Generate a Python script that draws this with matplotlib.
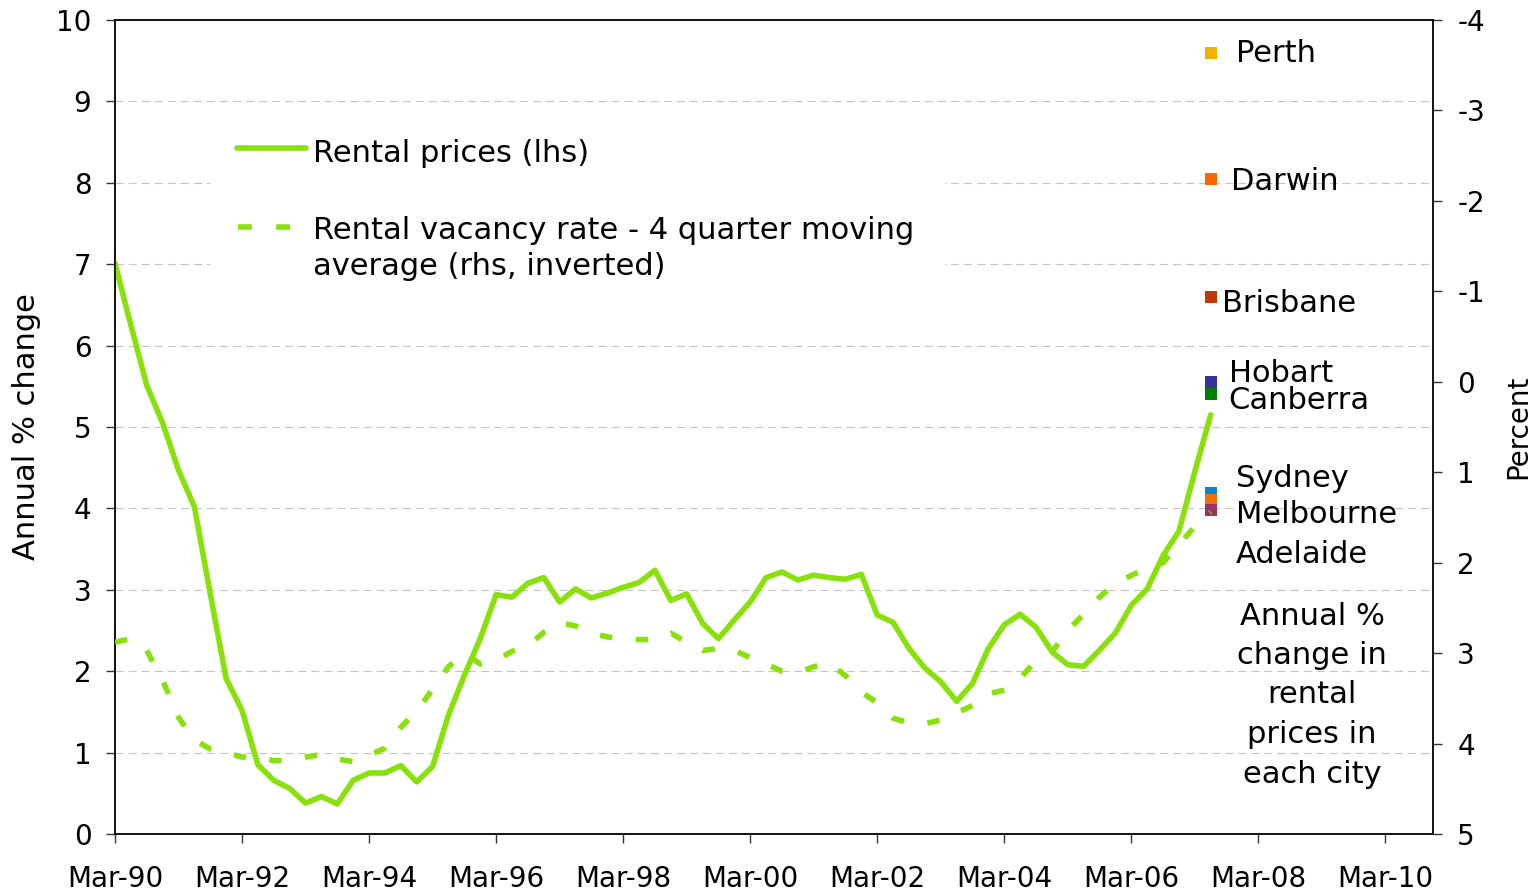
import matplotlib
matplotlib.use("Agg")
import matplotlib.pyplot as plt
from matplotlib.lines import Line2D
from matplotlib.patches import Rectangle
import numpy as np

plt.rcParams['font.family'] = ['DejaVu Sans']
plt.rcParams['axes.unicode_minus'] = False
plt.rcParams['lines.scale_dashes'] = False

# ---------------- data (quarterly, Mar-90 .. Jun-07) ----------------
start_year = 1990.0
rental_prices = [7.01, 6.25, 5.51, 5.05, 4.47, 4.02, 2.95, 1.91, 1.52, 0.85,
                 0.66, 0.56, 0.38, 0.46, 0.37, 0.66, 0.75, 0.75, 0.84, 0.64,
                 0.83, 1.46, 1.95, 2.40, 2.94, 2.91, 3.08, 3.15, 2.85, 3.01,
                 2.90, 2.96, 3.03, 3.09, 3.24, 2.87, 2.95, 2.59, 2.40, 2.63,
                 2.85, 3.15, 3.22, 3.12, 3.18, 3.15, 3.13, 3.19, 2.69, 2.60,
                 2.28, 2.04, 1.87, 1.63, 1.85, 2.28, 2.57, 2.70, 2.54, 2.24,
                 2.08, 2.06, 2.26, 2.47, 2.81, 3.01, 3.42, 3.72, 4.45, 5.15]
vacancy_rate = [2.88, 2.84, 2.97, 3.30, 3.71, 3.96, 4.06, 4.10, 4.15, 4.14,
                4.19, 4.19, 4.15, 4.12, 4.17, 4.20, 4.13, 4.05, 3.82, 3.64,
                3.40, 3.15, 3.00, 3.12, 3.08, 2.98, 2.92, 2.77, 2.66, 2.70,
                2.78, 2.82, 2.85, 2.85, 2.85, 2.78, 2.88, 2.97, 2.95, 2.97,
                3.05, 3.12, 3.20, 3.22, 3.15, 3.11, 3.25, 3.43, 3.55, 3.72,
                3.77, 3.78, 3.74, 3.66, 3.58, 3.45, 3.41, 3.28, 3.08, 2.99,
                2.75, 2.57, 2.38, 2.23, 2.14, 2.06, 2.00, 1.80, 1.60, 1.44]

cities = ["Perth", "Darwin", "Brisbane", "Hobart", "Canberra",
          "Sydney", "Melbourne", "Adelaide"]
city_values = [9.60, 8.05, 6.60, 5.55, 5.41, 4.19, 4.10, 3.98]
city_colors = ["#F2B000", "#FF6600", "#C0370A", "#333399", "#008000",
               "#0A84D0", "#F07000", "#993366"]
city_quarter = 69  # Jun-07

xtick_years = list(range(1990, 2011, 2))
xtick_labels = ["Mar-%02d" % (y % 100) for y in xtick_years]
left_ticks = list(range(0, 11))
right_ticks = list(range(-4, 6))

LINE_COLOR = "#88E10B"

# ---------------- figure ----------------
W, H = 1536, 894
fig = plt.figure(figsize=(W / 100, H / 100), dpi=100)

def fx(px):
    return px / W

def fy(py):
    return 1 - py / H

ax = fig.add_axes([fx(115), fy(834), (1433 - 115) / W, (834 - 20) / H])
ax2 = ax.twinx()

q = np.arange(len(rental_prices))
x = start_year + q * 0.25

ax.plot(x, rental_prices, color=LINE_COLOR, lw=4.0, solid_joinstyle='round',
        solid_capstyle='round', zorder=3)
ax2.plot(x[:len(vacancy_rate)], vacancy_rate, color=LINE_COLOR, lw=4.0,
         linestyle=(0, (9.0, 17.0)), dash_capstyle='butt', zorder=3)

xc = start_year + city_quarter * 0.25
for name, val, col in zip(cities, city_values, city_colors):
    ax.plot([xc], [val], marker='s', markersize=8.8, color=col,
            markeredgewidth=0, linestyle='none', zorder=4)

# axes ranges
ax.set_xlim(1990, 1990 + 83 * 0.25)
ax.set_ylim(0, 10)
ax2.set_ylim(5, -4)

ax.set_xticks(xtick_years)
ax.set_xticklabels(xtick_labels)
ax.set_yticks(left_ticks)
ax.set_yticklabels([str(v) for v in left_ticks])
ax2.set_yticks(right_ticks)
ax2.set_yticklabels([str(v) for v in right_ticks])

ax.tick_params(axis='x', direction='out', length=6.5, width=1.0,
               labelsize=20, pad=16, color='#333333')
ax.tick_params(axis='y', direction='out', length=6.5, width=1.0,
               labelsize=20, pad=10.5, color='#333333')
ax2.tick_params(axis='y', direction='out', length=6.5, width=1.0,
                labelsize=20, pad=11, color='#333333')

ax.set_axisbelow(True)
ax.yaxis.grid(True, color='#C4C4C4', linestyle=(0, (5.8, 3.6)), lw=0.8)
ax.xaxis.grid(False)

for a in (ax, ax2):
    for s in a.spines.values():
        s.set_linewidth(1.2)
        s.set_color('#111111')

ax.set_ylabel("Annual % change", fontsize=22, labelpad=11)
ax2.set_ylabel("Percent", fontsize=20, labelpad=14)

# ---------------- legend (white box without border) ----------------
box = Rectangle((fx(210), fy(290)), fx(945) - fx(210), fy(112) - fy(290),
                transform=fig.transFigure, facecolor='white',
                edgecolor='none', zorder=1)
ax.add_patch(box)
fig.add_artist(Line2D([fx(237), fx(306)], [fy(148), fy(148)],
                      color=LINE_COLOR, lw=4.0, solid_capstyle='round'))
fig.add_artist(Line2D([fx(238), fx(291)], [fy(227), fy(227)],
                      color=LINE_COLOR, lw=4.0, linestyle=(0, (10, 17.5)),
                      dash_capstyle='butt'))
fig.text(fx(313), fy(162), "Rental prices (lhs)", fontsize=22, va='baseline')
fig.text(fx(313), fy(239), "Rental vacancy rate - 4 quarter moving",
         fontsize=22, va='baseline')
fig.text(fx(313), fy(275), "average (rhs, inverted)", fontsize=22,
         va='baseline')

# ---------------- city labels ----------------
label_pos = {"Perth": (1236, 62), "Darwin": (1231, 190),
             "Brisbane": (1222, 312), "Hobart": (1229, 382),
             "Canberra": (1228, 409), "Sydney": (1236, 487),
             "Melbourne": (1236, 523), "Adelaide": (1236, 563)}
for name in cities:
    px, py = label_pos[name]
    fig.text(fx(px), fy(py), name, fontsize=22, va='baseline')

note_lines = ["Annual %", "change in", "rental", "prices in", "each city"]
note_baselines = [625, 664, 703, 743, 783]
for line, b in zip(note_lines, note_baselines):
    fig.text(fx(1312), fy(b), line, fontsize=22, va='baseline', ha='center')

fig.savefig("out.png", dpi=100)
